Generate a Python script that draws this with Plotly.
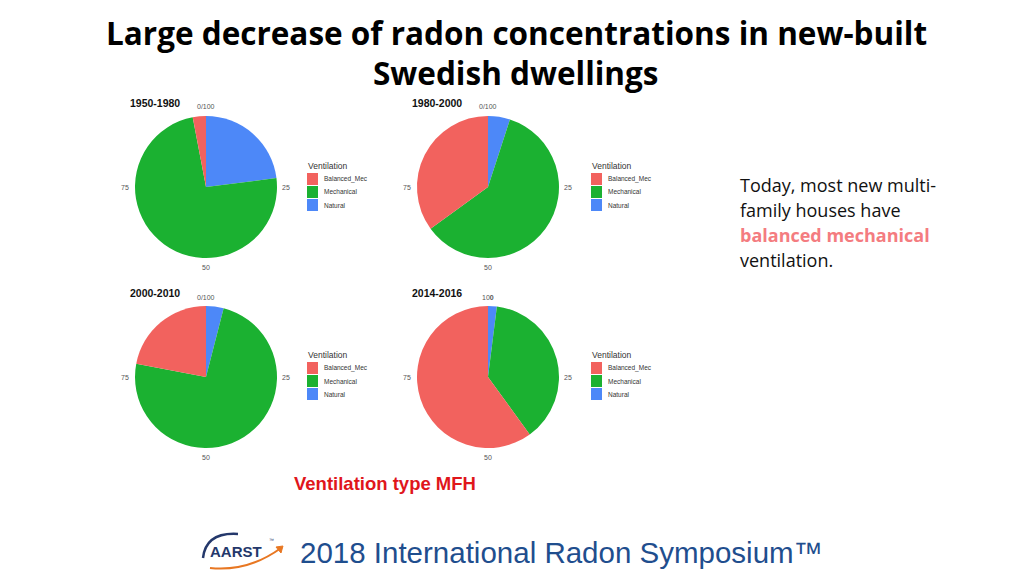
import plotly.graph_objects as go

# Ventilation shares (%) per construction period, MFH
periods = ['1950-1980', '1980-2000', '2000-2010', '2014-2016']
vent_types = ['Balanced_Mec', 'Mechanical', 'Natural']
balanced = [3, 35, 22, 60]
mechanical = [74, 60, 74, 38]
natural = [23, 5, 4, 2]
tick_labels = ['0/100', '25', '50', '75']

colors = {'Balanced_Mec': '#F2625E', 'Mechanical': '#1BB131', 'Natural': '#4D88F8'}

W, H = 1024, 576
R = 71  # pie radius, px
centers = [(206, 187), (488, 187), (206, 377), (488, 377)]
legend_xy = [(307, 166), (591, 166), (307, 355), (591, 355)]


def px(x, y):
    # pixel position -> paper coords
    return x / W, 1 - y / H


fig = go.Figure()

for i, period in enumerate(periods):
    cx, cy = centers[i]
    # ggplot polar order: clockwise from the top, Natural first
    order = ['Natural', 'Mechanical', 'Balanced_Mec']
    vals = {'Balanced_Mec': balanced[i], 'Mechanical': mechanical[i], 'Natural': natural[i]}
    fig.add_trace(go.Pie(
        labels=order,
        values=[vals[k] for k in order],
        sort=False,
        direction='clockwise',
        rotation=0,
        textinfo='none',
        marker=dict(colors=[colors[k] for k in order], line=dict(width=0)),
        domain=dict(x=[(cx - R) / W, (cx + R) / W],
                    y=[1 - (cy + R) / H, 1 - (cy - R) / H]),
        name=period,
        showlegend=False,
    ))

    # panel title
    x0, y0 = px(cx - 78, cy - 84)
    fig.add_annotation(x=x0, y=y0, text='<b>' + period + '</b>',
                       showarrow=False, xanchor='left', yanchor='middle',
                       font=dict(family='Liberation Sans', size=10.5, color='#111111'))
    # polar tick labels
    tick_pos = [(cx, cy - R - 9), (cx + R + 9, cy), (cx, cy + R + 9), (cx - R - 10, cy)]
    for lab, (tx, ty) in zip(tick_labels, tick_pos):
        if i == 3 and lab == '0/100':
            lab = '10<b>0</b>'  # the 0 and 100 labels overprint in the original
        ax, ay = px(tx, ty)
        fig.add_annotation(x=ax, y=ay, text=lab, showarrow=False,
                           xanchor='center', yanchor='middle',
                           font=dict(family='Liberation Sans', size=7, color='#555555'))

    # legend (one per panel, as in the faceted original)
    lx, ly = legend_xy[i]
    tx, ty = px(lx - 1, ly)
    fig.add_annotation(x=tx, y=ty, text='Ventilation', showarrow=False,
                       xanchor='left', yanchor='middle',
                       font=dict(family='Liberation Sans', size=8.5, color='#333333'))
    for j, vt in enumerate(vent_types):
        sy = ly + 7 + 13 * j
        a0, b0 = px(lx, sy)
        a1, b1 = px(lx + 11, sy + 12)
        fig.add_shape(type='rect', xref='paper', yref='paper', x0=a0, y0=b0, x1=a1, y1=b1,
                      fillcolor=colors[vt], line=dict(width=0))
        la, lb = px(lx + 15, sy + 6)
        fig.add_annotation(x=la, y=lb, text=vt, showarrow=False,
                           xanchor='left', yanchor='middle',
                           font=dict(family='Liberation Sans', size=6.5, color='#333333'))

# page texts
tx, ty = px(516, 32)
fig.add_annotation(x=tx, y=ty, text='<b>Large decrease of radon concentrations in new-built</b>',
                   showarrow=False, xanchor='center', yanchor='middle',
                   font=dict(family='Open Sans', size=31.5, color='#000000'))
tx, ty = px(516, 72)
fig.add_annotation(x=tx, y=ty, text='<b>Swedish dwellings</b>',
                   showarrow=False, xanchor='center', yanchor='middle',
                   font=dict(family='Open Sans', size=31.5, color='#000000'))

right_lines = ['Today, most new multi-', 'family houses have',
               '<b><span style="color:#F47C80">balanced mechanical</span></b>', 'ventilation.']
for k, line in enumerate(right_lines):
    tx, ty = px(738, 185 + 25 * k)
    fig.add_annotation(x=tx, y=ty, text=line, showarrow=False,
                       xanchor='left', yanchor='middle',
                       font=dict(family='Open Sans', size=18, color='#111111'))

tx, ty = px(292, 483)
fig.add_annotation(x=tx, y=ty, text='<b>Ventilation type MFH</b>', showarrow=False,
                   xanchor='left', yanchor='middle',
                   font=dict(family='Liberation Sans', size=18.5, color='#E0161B'))

# footer
tx, ty = px(298, 552)
fig.add_annotation(x=tx, y=ty, text='2018 International Radon Symposium™',
                   showarrow=False, xanchor='left', yanchor='middle',
                   font=dict(family='Liberation Sans', size=29.5, color='#1F4E8E'))
tx, ty = px(236, 551)
fig.add_annotation(x=tx, y=ty, text='<b>AARST</b>', showarrow=False,
                   xanchor='center', yanchor='middle',
                   font=dict(family='Liberation Sans', size=15, color='#24386B'))
tx, ty = px(267, 540)
fig.add_annotation(x=tx, y=ty, text='™', showarrow=False, xanchor='left', yanchor='middle',
                   font=dict(family='Liberation Sans', size=5, color='#24386B'))
p = [px(210, 568), px(248, 572), px(281, 548)]
fig.add_shape(type='path', xref='paper', yref='paper',
              path='M %f %f Q %f %f %f %f' % (p[0] + p[1] + p[2]),
              line=dict(color='#E87722', width=2))
p = [px(276, 547), px(283, 546), px(281, 553)]
fig.add_shape(type='path', xref='paper', yref='paper',
              path='M %f %f L %f %f L %f %f Z' % (p[0] + p[1] + p[2]),
              fillcolor='#E87722', line=dict(color='#E87722', width=1))
p = [px(203, 558), px(206, 532), px(238, 534)]
fig.add_shape(type='path', xref='paper', yref='paper',
              path='M %f %f Q %f %f %f %f' % (p[0] + p[1] + p[2]),
              line=dict(color='#24386B', width=2.5))

fig.update_layout(
    width=W, height=H,
    margin=dict(l=0, r=0, t=0, b=0),
    paper_bgcolor='white',
    plot_bgcolor='white',
    showlegend=False,
)

fig.write_html('out.html', config={'displayModeBar': False},
               post_script="document.body.style.margin='0';")
